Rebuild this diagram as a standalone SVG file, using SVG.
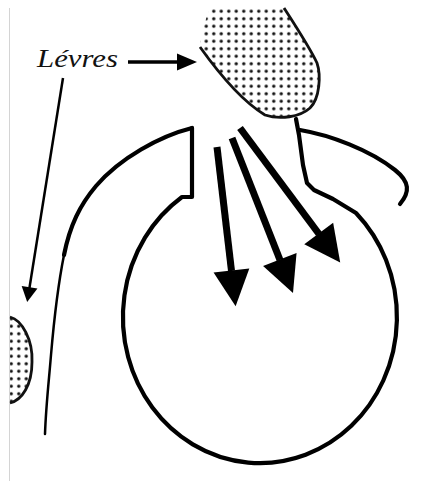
<svg xmlns="http://www.w3.org/2000/svg" width="441" height="481" viewBox="0 0 441 481">
  <style>
    .ink { fill: none; stroke: #000; stroke-linejoin: round; stroke-linecap: round; }
    .lip { fill: url(#dots); stroke: none; }
    .lipEdge { fill: none; stroke: #111; stroke-width: 2.8; stroke-linejoin: round; }
    .flow { fill: none; stroke: #000; stroke-width: 7; }
    .pointer { fill: none; stroke: #000; }
    .label { font-family: "Liberation Serif", "Times New Roman", serif; font-style: italic; font-size: 26px; fill: #111; }
  </style>
  <defs>
    <pattern id="dots" width="7.5" height="7.5" patternUnits="userSpaceOnUse">
      <rect width="7.5" height="7.5" fill="#fff"/>
      <circle cx="3.75" cy="3.75" r="1.7" fill="#111"/>
    </pattern>
    <marker id="bigHead" markerUnits="userSpaceOnUse" markerWidth="37" markerHeight="37" refX="0.5" refY="18" orient="auto" overflow="visible">
      <path d="M0,0 L36,18 L0,36 Z" fill="#000"/>
    </marker>
    <marker id="headA" markerUnits="userSpaceOnUse" markerWidth="21" markerHeight="18" refX="1" refY="8.5" orient="auto" overflow="visible">
      <path d="M0,0 L20,8.5 L0,17 Z" fill="#000"/>
    </marker>
    <marker id="headB" markerUnits="userSpaceOnUse" markerWidth="16" markerHeight="17" refX="1" refY="8" orient="auto" overflow="visible">
      <path d="M0,0 L15,8 L0,16 Z" fill="#000"/>
    </marker>
  </defs>

  <rect width="441" height="481" fill="#fff"/>
  <!-- frame edge -->
  <line x1="9.5" y1="8" x2="9.5" y2="481" stroke="#d4d4d4" stroke-width="1"/>

  <!-- upper lip -->
  <g id="upper-lip">
    <path class="lip" d="M210,8 C205,20 201,36 200,47 C215,68 240,100 265,115 C280,120 300,117 310,108 C320,98 321,75 317,63 C310,48 295,25 284,8 Z"/>
    <path class="lipEdge" d="M200,47 C215,68 240,100 265,115 C280,120 300,117 310,108 C320,98 321,75 317,63 C310,48 295,25 284,8"/>
  </g>

  <!-- lower lip -->
  <g id="lower-lip">
    <path class="lip" d="M10,317 C22,320 33,340 32,362 C32,385 22,400 10,403 Z"/>
    <path class="lipEdge" d="M10,317 C22,320 33,340 32,362 C32,385 22,400 10,403"/>
  </g>

  <!-- mouthpiece cup and throat -->
  <g id="mouthpiece">
    <path class="ink" stroke-width="4.2" d="M192,128 L192,197 L182,197 A137,146 0 1 0 356,213 L333,199 L314,190 L307,183 L303,165 L299,135 L296,119"/>
    <path class="ink" stroke-width="4.2" d="M300,130 C330,135 370,150 395,170 C410,182 410,192 400,204"/>
    <path class="ink" stroke-width="4.2" d="M192,128 C160,136 120,158 96,186 C80,205 70,225 64,255"/>
    <path class="ink" stroke-width="2.5" d="M64,255 C58,285 54,320 51,355 C49,380 46,405 45,434"/>
  </g>

  <!-- label -->
  <g id="label-levres">
    <text class="label" x="37" y="67" textLength="81" lengthAdjust="spacingAndGlyphs">Lévres</text>
  </g>

  <!-- connectors -->
  <g id="connectors">
    <line class="pointer" stroke-width="3.5" x1="128" y1="62" x2="178" y2="62" marker-end="url(#headA)"/>
    <line class="pointer" stroke-width="2.5" x1="63" y1="78" x2="29.4" y2="288.2" marker-end="url(#headB)"/>
    <line class="flow" x1="217" y1="147" x2="231.5" y2="271" marker-end="url(#bigHead)"/>
    <line class="flow" x1="232" y1="138" x2="280" y2="260" marker-end="url(#bigHead)"/>
    <line class="flow" x1="240" y1="128" x2="319" y2="234" marker-end="url(#bigHead)"/>
  </g>
</svg>
